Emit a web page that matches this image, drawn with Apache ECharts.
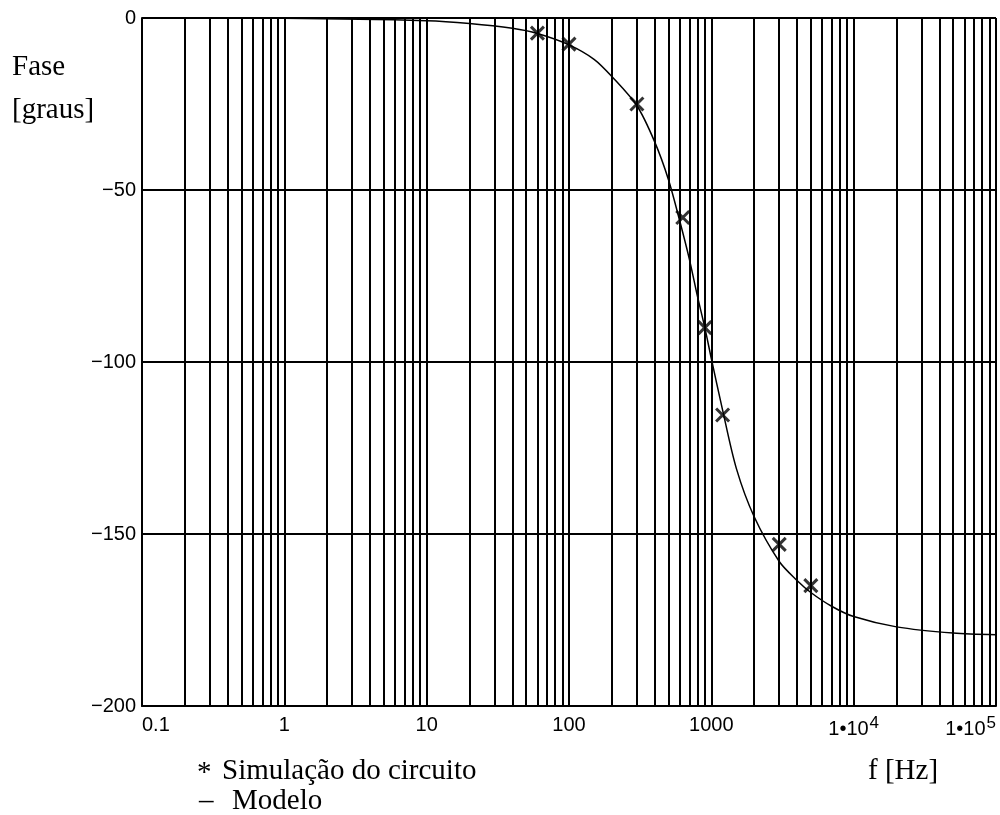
<!DOCTYPE html>
<html>
<head>
<meta charset="utf-8">
<script src="https://cdn.jsdelivr.net/npm/echarts@6/dist/echarts.min.js"></script>
<style>html,body{margin:0;padding:0;background:#fff;}#c{width:1000px;height:815px;}</style>
</head>
<body>
<div id="c"></div>
<script>
// Model curve
const freqModel = [0.1, 1, 10, 20, 40, 60, 100, 150, 200, 300, 400, 500, 600, 700, 800, 900, 1000, 1200, 1500, 2000, 3000, 4000, 5000, 7000, 10000, 20000, 50000, 100000];
const phaseModel = [0, -0.1, -0.8, -1.6, -3, -4.5, -7.8, -12, -17, -25.5, -36, -47, -59, -70, -81, -90, -99, -114, -131, -145, -158, -163.5, -167, -171, -174, -177, -178.8, -179.3];
// Circuit simulation points
const freqSim = [60, 100, 300, 630, 900, 1200, 3000, 5000];
const phaseSim = [-4.4, -7.6, -25, -58, -90, -115.4, -153, -165];
// Axis ticks
const decades = [0.1, 1, 10, 100, 1000, 10000, 100000];
const xTickLabels = ['0.1', '1', '10', '100', '1000', '{n|1•10}{s|4}', '{n|1•10}{s|5}'];
const minorMultipliers = [2, 3, 4, 5, 6, 7, 8, 9];

const minorLines = [];
decades.slice(0, -1).forEach(d => minorMultipliers.forEach(m => minorLines.push({ xAxis: d * m })));

const tickFont = '"Liberation Sans", Arial, sans-serif';
const serif = '"Liberation Serif", "Times New Roman", serif';

const chart = echarts.init(document.getElementById('c'), null, { renderer: 'canvas' });
chart.setOption({
  animation: false,
  backgroundColor: '#fff',
  grid: { left: 142, right: 4, top: 18, bottom: 109, containLabel: false },
  xAxis: {
    type: 'log', logBase: 10, min: 0.1, max: 100000,
    axisLine: { show: true, onZero: false, lineStyle: { color: '#000', width: 2 } },
    axisTick: { show: false },
    splitLine: { show: true, lineStyle: { color: '#000', width: 2 } },
    axisLabel: {
      margin: 9, color: '#000', fontFamily: tickFont, fontSize: 20,
      alignMinLabel: 'left', alignMaxLabel: 'right',
      formatter: v => {
        const i = decades.findIndex(d => Math.abs(Math.log10(d) - Math.log10(v)) < 1e-6);
        return i >= 0 ? xTickLabels[i] : '';
      },
      rich: {
        n: { fontFamily: tickFont, fontSize: 20, color: '#000', lineHeight: 24, verticalAlign: 'bottom' },
        s: { fontFamily: tickFont, fontSize: 17, color: '#000', lineHeight: 24, verticalAlign: 'top', padding: [0, 0, 13, 1] }
      }
    }
  },
  yAxis: {
    type: 'value', min: -200, max: 0, interval: 50,
    axisLine: { show: true, lineStyle: { color: '#000', width: 2 } },
    axisTick: { show: false },
    splitLine: { show: true, lineStyle: { color: '#000', width: 2 } },
    axisLabel: {
      margin: 6, color: '#000', fontFamily: tickFont, fontSize: 20,
      formatter: v => (v === 0 ? '0' : '\u2212' + Math.abs(v))
    }
  },
  series: [
    {
      name: 'Modelo', type: 'line', smooth: 0.3, showSymbol: false,
      data: freqModel.map((f, i) => [f, phaseModel[i]]),
      lineStyle: { color: '#000', width: 1.5 },
      z: 3,
      markLine: {
        silent: true, symbol: ['none', 'none'], label: { show: false },
        lineStyle: { color: '#000', width: 2, type: 'solid' },
        emphasis: { disabled: true },
        data: minorLines
      }
    },
    {
      name: 'Simulação do circuito', type: 'scatter',
      data: freqSim.map((f, i) => [f, phaseSim[i]]),
      symbol: 'path://M0,0L10,10M10,0L0,10', symbolSize: 13,
      itemStyle: { color: 'rgba(0,0,0,0)', borderColor: '#000', borderWidth: 3 },
      z: 4
    }
  ],
  graphic: [
    { type: 'text', left: 12, top: 53, style: { text: 'Fase', font: '29px ' + serif, fill: '#000' } },
    { type: 'text', left: 12, top: 96, style: { text: '[graus]', font: '29px ' + serif, fill: '#000' } },
    { type: 'text', left: 197, top: 759, style: { text: '*', font: '29px ' + serif, fill: '#000' } },
    { type: 'text', left: 222, top: 757, style: { text: 'Simulação do circuito', font: '29px ' + serif, fill: '#000' } },
    { type: 'text', left: 199, top: 787, style: { text: '\u2013', font: '29px ' + serif, fill: '#000' } },
    { type: 'text', left: 232, top: 787, style: { text: 'Modelo', font: '29px ' + serif, fill: '#000' } },
    { type: 'text', left: 868, top: 757, style: { text: 'f [Hz]', font: '29px ' + serif, fill: '#000' } }
  ]
});
</script>
</body>
</html>
